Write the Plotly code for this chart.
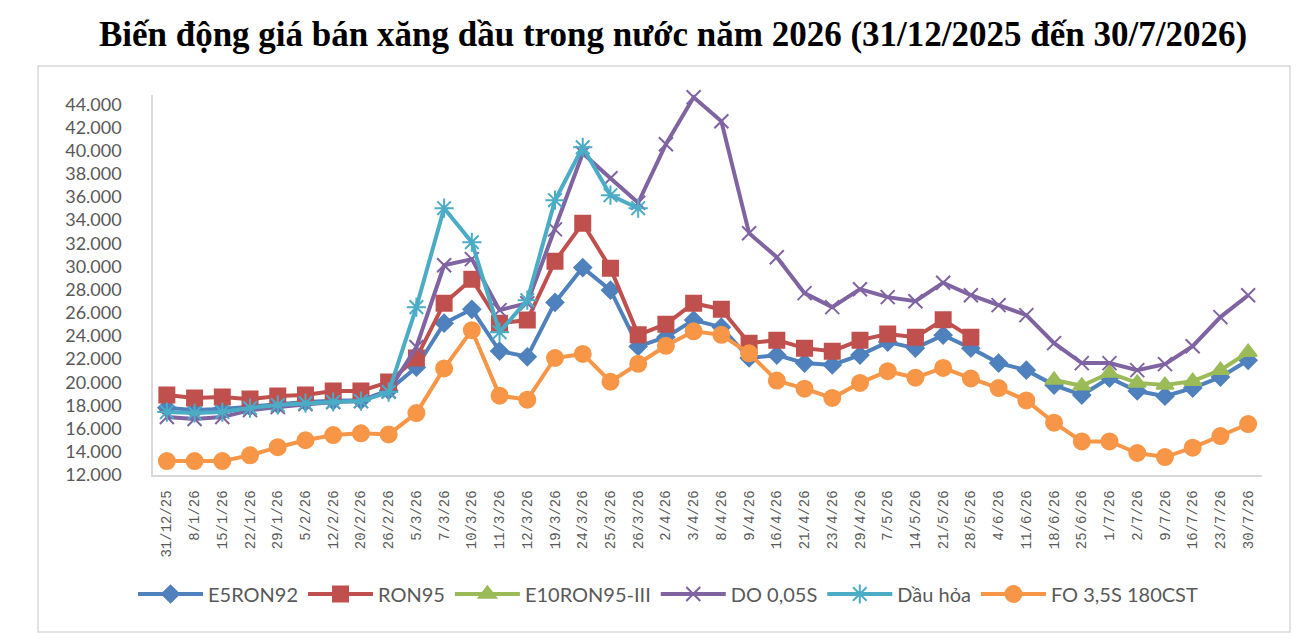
import plotly.graph_objects as go

# ---------------- Data ---------------- #

dates = [
    "31/12/25", "8/1/26", "15/1/26", "22/1/26", "29/1/26", "5/2/26", "12/2/26", "20/2/26",
    "26/2/26", "5/3/26", "7/3/26", "10/3/26", "11/3/26", "12/3/26", "19/3/26", "24/3/26",
    "25/3/26", "26/3/26", "2/4/26", "3/4/26", "8/4/26", "9/4/26", "16/4/26", "21/4/26",
    "23/4/26", "29/4/26", "7/5/26", "14/5/26", "21/5/26", "28/5/26", "4/6/26", "11/6/26",
    "18/6/26", "25/6/26", "1/7/26", "2/7/26", "9/7/26", "16/7/26", "23/7/26", "30/7/26",
]

e5ron92 = [
    17800, 17600, 17700, 17900, 18100, 18300, 18400, 18450,
    19300, 21300, 25100, 26300, 22700, 22200, 26900, 29900,
    27950, 23100, 23900, 25370, 24760, 22100, 22350, 21660,
    21500, 22350, 23470, 22950, 24070, 22950, 21660, 21050,
    19760, 18900, 20370, 19250, 18800, 19500, 20450, 21900,
]

ron95 = [
    18900, 18640, 18730, 18550, 18810, 18900, 19240, 19250,
    20020, 22090, 26830, 28900, 25100, 25370, 30450, 33730,
    29850, 24100, 25020, 26830, 26300, 23380, 23640, 22950,
    22690, 23640, 24160, 23900, 25400, 23900, None, None,
    None, None, None, None, None, None, None, None,
]

e10ron95 = [
    None, None, None, None, None, None, None, None,
    None, None, None, None, None, None, None, None,
    None, None, None, None, None, None, None, None,
    None, None, None, None, None, None, None, None,
    20200, 19700, 20800, 19950, 19760, 20100, 21050, 22600,
]

do005s = [
    17000, 16830, 17000, 17600, 17870, 18120, 18300, 18380,
    19240, 23050, 30100, 30630, 26230, 26830, 33200, 39770,
    37610, 35500, 40550, 44600, 42530, 32870, 30800, 27700,
    26490, 28040, 27350, 27000, 28600, 27520, 26660, 25800,
    23380, 21660, 21660, 21050, 21570, 23120, 25630, 27520,
]

dau_hoa = [
    17430, 17350, 17430, 17780, 18040, 18210, 18300, 18380,
    19160, 26490, 35030, 32090, 24330, 27090, 35720, 40290,
    36150, 35030, None, None, None, None, None, None,
    None, None, None, None, None, None, None, None,
    None, None, None, None, None, None, None, None,
]

fo35s = [
    13200, 13200, 13200, 13700, 14400, 15000, 15450, 15600,
    15500, 17350, 21200, 24500, 18850, 18500, 22100, 22450,
    20050, 21600, 23150, 24400, 24100, 22500, 20150, 19450,
    18650, 19950, 20960, 20400, 21240, 20330, 19500, 18440,
    16520, 14900, 14900, 13900, 13550, 14360, 15360, 16400,
]

y_ticks = list(range(12000, 44001, 2000))
y_labels = [f"{v // 1000}.000" for v in y_ticks]

# ---------------- Figure ---------------- #

series = [
    ("E5RON92", e5ron92, "#4f81bd", "diamond", 13),
    ("RON95", ron95, "#c0504d", "square", 15),
    ("E10RON95-III", e10ron95, "#9bbb59", "triangle-up", 15),
    ("DO 0,05S", do005s, "#8064a2", "x-thin-open", 14),
    ("Dầu hỏa", dau_hoa, "#4bacc6", "asterisk-open", 16),
    ("FO 3,5S 180CST", fo35s, "#f79646", "circle", 16),
]

fig = go.Figure()
for name, values, color, symbol, size in series:
    fig.add_trace(go.Scatter(
        x=dates, y=values, name=name, mode="lines+markers", cliponaxis=False,
        line=dict(color=color, width=4),
        marker=dict(symbol=symbol, size=size, color=color,
                    line=dict(color=color, width=2)),
    ))

# plot area in page pixels (page has an 8px body margin)
left, right, top, bottom = 145, 1254, 87, 467
pw, ph = right - left, bottom - top

fig.update_layout(
    width=1306, height=644,
    margin=dict(l=left, r=1306 - right, t=top, b=644 - bottom),
    plot_bgcolor="white", paper_bgcolor="white",
    title=dict(
        text="<b>Biến động giá bán xăng dầu trong nước năm 2026 (31/12/2025 đến 30/7/2026)</b>",
        font=dict(family="Liberation Serif", size=35, color="black"),
        x=665 / 1306, xanchor="center", xref="container",
        y=1 - 26 / 644, yanchor="middle", yref="container",
    ),
    xaxis=dict(
        type="category", range=[-0.5, len(dates) - 0.5], tickangle=-90, showgrid=False,
        showline=True, linecolor="#d9d9d9", linewidth=1.5,
        ticks="", ticklabelstandoff=8,
        tickfont=dict(family="Liberation Mono", size=14, color="#595959"),
    ),
    yaxis=dict(
        range=[12000, 44800], tickvals=y_ticks, ticktext=y_labels,
        showgrid=False, zeroline=False,
        showline=True, linecolor="#d9d9d9", linewidth=1.5,
        ticks="", ticklabelstandoff=26,
        tickfont=dict(family="Lato", size=18, color="#595959"),
    ),
    legend=dict(
        orientation="h", x=(660 - left) / pw, xanchor="center",
        y=(bottom - 586) / ph, yanchor="middle",
        font=dict(family="Lato", size=20, color="#595959"),
        itemwidth=65,
    ),
    shapes=[dict(
        type="rect", xref="paper", yref="paper",
        x0=(30 - left) / pw, x1=(1282 - left) / pw,
        y0=(bottom - 624) / ph, y1=(bottom - 58) / ph,
        line=dict(color="#d9d9d9", width=1.5), fillcolor="rgba(0,0,0,0)",
        layer="below",
    )],
)

fig.write_html("out.html")
